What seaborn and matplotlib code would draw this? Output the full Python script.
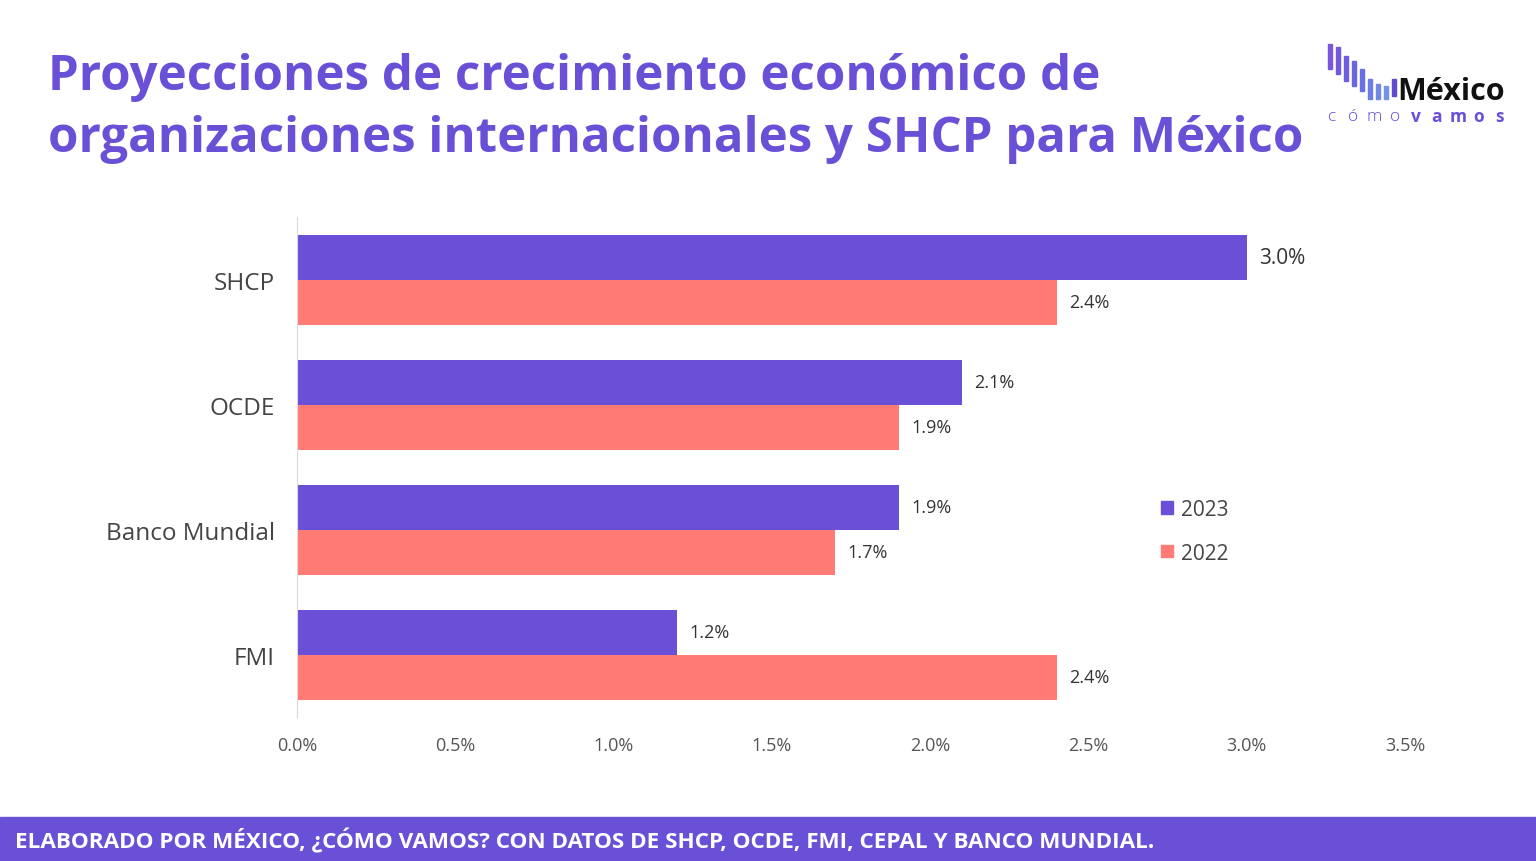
import matplotlib
matplotlib.use("Agg")
import matplotlib.pyplot as plt
import matplotlib.patches as mpatches
import seaborn as sns
import pandas as pd

categories = ["SHCP", "OCDE", "Banco Mundial", "FMI"]
vals_2023 = [3.0, 2.1, 1.9, 1.2]
vals_2022 = [2.4, 1.9, 1.7, 2.4]
years = ["2023", "2022"]
xticks = [0.0, 0.5, 1.0, 1.5, 2.0, 2.5, 3.0, 3.5]

purple = "#6A4FD7"
coral = "#FF7B74"

df = pd.DataFrame({
    "org": categories * 2,
    "year": ["2023"] * 4 + ["2022"] * 4,
    "value": vals_2023 + vals_2022,
})

sns.set_style("white")
plt.rcParams["font.family"] = ["Open Sans", "DejaVu Sans"]

fig = plt.figure(figsize=(15.36, 8.62), dpi=100)
ax = fig.add_axes([0.1934, 0.167, 0.7213, 0.580])

sns.barplot(data=df, y="org", x="value", hue="year", hue_order=years,
            palette=[purple, coral], orient="h", width=0.72, gap=0,
            saturation=1, linewidth=0, ax=ax)

for cont in ax.containers:
    ax.bar_label(cont, labels=[f"{v:.1f}%" for v in cont.datavalues],
                 padding=9, fontsize=13, color="#333333")
# the top label is bigger in the reference
ax.texts[0].set_fontsize(15)

ax.set_xlim(0, 3.5)
ax.set_xticks(xticks)
ax.set_xticklabels([f"{t:.1f}%" for t in xticks], fontsize=13, color="#555555")
ax.tick_params(axis="x", length=0, pad=14)
ax.tick_params(axis="y", length=0, pad=16, labelsize=17.5, labelcolor="#444444")
ax.set_xlabel("")
ax.set_ylabel("")
for s in ["top", "right", "bottom"]:
    ax.spines[s].set_visible(False)
ax.spines["left"].set_color("#d9d9d9")

handles = [mpatches.Patch(color=purple), mpatches.Patch(color=coral)]
ax.legend(handles, years, loc="center left", bbox_to_anchor=(0.763, 0.372),
          frameon=False, fontsize=15, handlelength=0.55, handleheight=0.55,
          handletextpad=0.4, labelspacing=1.1, labelcolor="#444444")

fig.text(0.031, 1 - 90 / 862, "Proyecciones de crecimiento económico de",
         fontsize=35.4, fontweight="bold", color=purple, va="baseline")
fig.text(0.031, 1 - 152 / 862, "organizaciones internacionales y SHCP para México",
         fontsize=35.4, fontweight="bold", color=purple, va="baseline")

# footer banner
fig.patches.append(mpatches.Rectangle((0, 0), 1, 44 / 862, transform=fig.transFigure,
                                      color=purple, zorder=0))
fig.text(0.010, 21 / 862, "ELABORADO POR MÉXICO, ¿CÓMO VAMOS? CON DATOS DE SHCP, OCDE, FMI, CEPAL Y BANCO MUNDIAL.",
         fontsize=16.2, fontweight="bold", color="white", va="center")

# logo, drawn in pixel-like coordinates
lax = fig.add_axes([1320 / 1536, 1 - 125 / 862, 195 / 1536, 85 / 862])
lax.set_xlim(1320, 1515)
lax.set_ylim(125, 40)
lax.axis("off")
logo_bars = [(1328, 45, 70), (1336, 48, 75), (1344, 57, 82), (1352, 62, 87),
             (1360, 70, 92), (1368, 80, 100), (1376, 85, 100), (1384, 87, 100),
             (1392, 80, 97)]
logo_c = ["#7A55E0", "#7458DF", "#6E5DE0", "#6B65E2", "#6870E4",
          "#6B7DE6", "#7188E8", "#7592EA", "#5F4BD0"]
for (x0, t, b), c in zip(logo_bars, logo_c):
    lax.add_patch(mpatches.Rectangle((x0, t), 3.5, b - t, color=c))
lax.text(1397, 100, "México", fontsize=22, fontweight="bold", color="#111111",
         va="baseline")
for i, ch in enumerate("cómovamos"):
    bold = i >= 4
    lax.text(1332 + i * 21, 117, ch, fontsize=12.5, ha="center", va="center",
             color=purple, fontweight="bold" if bold else "light")

fig.savefig("out.png", dpi=100)
